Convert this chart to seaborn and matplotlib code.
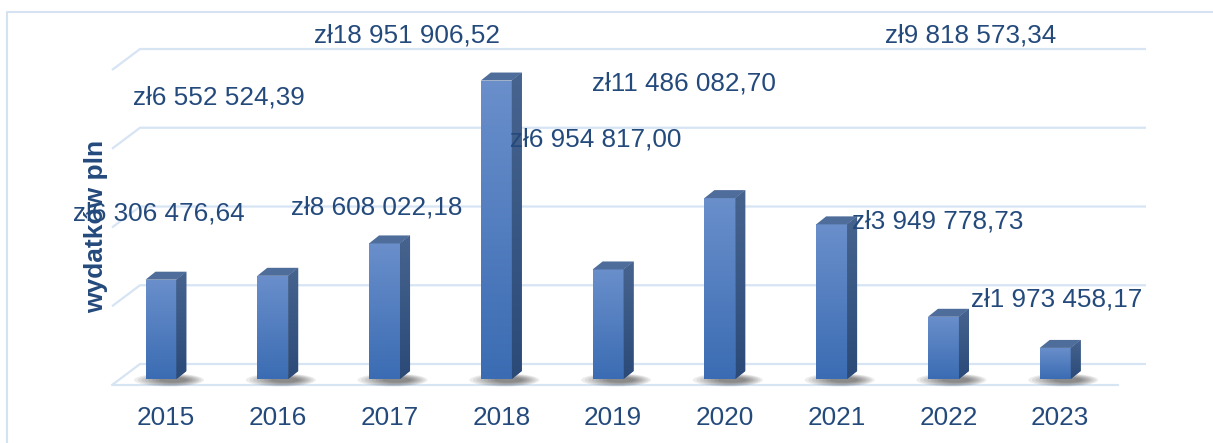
import numpy as np
import matplotlib.pyplot as plt
import matplotlib.transforms as mtransforms
from matplotlib.colors import LinearSegmentedColormap
from matplotlib.patches import Polygon, Ellipse
from matplotlib.lines import Line2D
import seaborn as sns

years = ['2015', '2016', '2017', '2018', '2019', '2020', '2021', '2022', '2023']
values = [6306476.64, 6552524.39, 8608022.18, 18951906.52, 6954817.00,
          11486082.70, 9818573.34, 3949778.73, 1973458.17]
grid_values = [0, 5e6, 10e6, 15e6, 20e6]
y_title = 'wydatków pln'

# where Excel dropped the value labels (figure px: centre x, baseline y)
label_pos = [(159, 221), (219, 105), (377, 215), (407, 42), (596, 146),
             (684, 90), (971, 42), (938, 228), (1057, 307)]

W, H = 1213, 443
TXT = '#244a7c'
GRID = '#d6e4f4'

sns.set_theme(style='white')
plt.rcParams['font.family'] = ['Liberation Sans', 'DejaVu Sans']

fig = plt.figure(figsize=(W / 100, H / 100), dpi=100)
ax = fig.add_axes([105.1 / W, (H - 379) / H, 1006 / W, 338.6 / H])

sns.barplot(x=years, y=values, width=0.277, color='#4a7bbf', saturation=1,
            ax=ax, zorder=3)
ax.set_xlim(-0.5, 8.5)
ax.set_ylim(0, 21.5e6)
ax.axis('off')

# px -> data conversion
o = ax.transData.transform((0, 0))
sx = ax.transData.transform((1, 0))[0] - o[0]
sy = (ax.transData.transform((0, 1e6))[1] - o[1]) / 1e6
dxu = lambda px: px / sx
dyu = lambda px: px / sy

# back wall grid + floor
x_left, x_right = dxu(119 - 105.1) - 0.5, dxu(1125 - 105.1) - 0.5
bx, by = dxu(21), dyu(15)
fx, fy = dxu(-7), dyu(-6)
for v in grid_values:
    ax.plot([x_left + fx, x_left + bx, x_right + bx], [v + fy, v + by, v + by],
            color=GRID, lw=1.6, zorder=1, clip_on=False, solid_capstyle='butt')
ax.plot([x_left + fx, x_right + fx], [fy, fy], color=GRID, lw=1.6, zorder=1,
        clip_on=False)

front_cmap = LinearSegmentedColormap.from_list('f', ['#3b6cb3', '#6a8fcb'])
side_cmap = LinearSegmentedColormap.from_list('s', ['#2b4a78', '#47648f'])
grad = np.linspace(0, 1, 128).reshape(-1, 1)
ddx, ddy = dxu(10), dyu(8)

for p in ax.patches:
    x0, w, h = p.get_x(), p.get_width(), p.get_height()
    p.set_edgecolor('none')
    # soft shadow, heavier towards the right
    cx = x0 + w / 2 + dxu(8)
    for k in range(8):
        e = Ellipse((cx + dxu(k * 0.6), dyu(-1)), dxu(70 - 6 * k),
                    dyu(13 - 1.1 * k), color='black', alpha=0.07, lw=0,
                    zorder=2, clip_on=False)
        ax.add_patch(e)
    im = ax.imshow(grad, extent=(x0, x0 + w, 0, h), origin='lower',
                   cmap=front_cmap, aspect='auto', zorder=4)
    im.set_clip_path(p)
    side = Polygon([(x0 + w, 0), (x0 + w + ddx, ddy), (x0 + w + ddx, h + ddy),
                    (x0 + w, h)], closed=True, fc='#3a5a88', ec='none', zorder=4)
    ax.add_patch(side)
    im2 = ax.imshow(grad, extent=(x0 + w, x0 + w + ddx, 0, h + ddy),
                    origin='lower', cmap=side_cmap, aspect='auto', zorder=4)
    im2.set_clip_path(side)
    top = Polygon([(x0, h), (x0 + ddx, h + ddy), (x0 + w + ddx, h + ddy),
                   (x0 + w, h)], closed=True, fc='#4f6d9b', ec='none', zorder=4)
    ax.add_patch(top)

ax.set_xlim(-0.5, 8.5)
ax.set_ylim(0, 21.5e6)

# year labels
tr = mtransforms.blended_transform_factory(ax.transData, fig.transFigure) + \
    mtransforms.ScaledTranslation(5 / 100, 0, fig.dpi_scale_trans)
for i, yr in enumerate(years):
    ax.text(i, 1 - 425 / H, yr, transform=tr, ha='center', va='baseline',
            fontsize=18.8, color=TXT)

# value labels
for v, (px, py) in zip(values, label_pos):
    s = 'zł' + f'{v:,.2f}'.replace(',', ' ').replace('.', ',')
    fig.text(px / W, 1 - py / H, s, ha='center', va='baseline',
             fontsize=18.8, color=TXT, zorder=5)

fig.text(96 / W, 1 - 226 / H, y_title, rotation=90, ha='center', va='center',
         fontsize=19, fontweight='bold', color=TXT, zorder=6)

# chart area border
fig.add_artist(Line2D([7 / W, 7 / W, 1], [0, 1 - 12 / H, 1 - 12 / H],
                      transform=fig.transFigure, color='#d5e2f2', lw=1.5))

plt.savefig('out.png', dpi=100)
